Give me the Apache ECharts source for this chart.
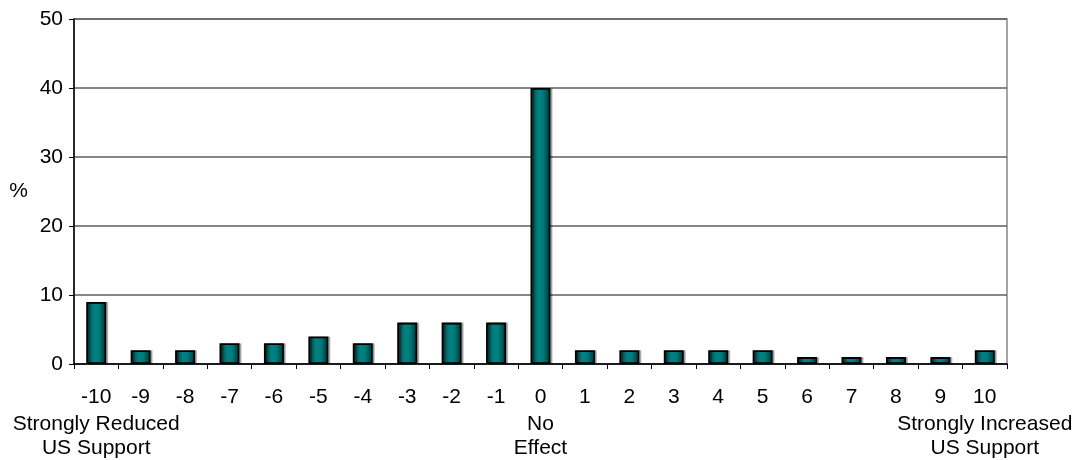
<!DOCTYPE html>
<html>
<head>
<meta charset="utf-8">
<script src="https://cdn.jsdelivr.net/npm/echarts@6/dist/echarts.min.js"></script>
<style>
  html, body { margin: 0; padding: 0; background: #fff; }
  #chart { width: 1083px; height: 460px; }
</style>
</head>
<body>
<div id="chart"></div>
<script>
// Scale positions, from strongly reduced to strongly increased support
const categories = ['-10', '-9', '-8', '-7', '-6', '-5', '-4', '-3', '-2', '-1', '0',
                    '1', '2', '3', '4', '5', '6', '7', '8', '9', '10'];
// Share of respondents (%) at each position
const percentages = [9, 2, 2, 3, 3, 4, 3, 6, 6, 6, 40, 2, 2, 2, 2, 2, 1, 1, 1, 1, 2];
// Descriptive captions under selected positions
const captions = {
  '-10': ['Strongly Reduced', 'US Support'],
  '0': ['No', 'Effect'],
  '10': ['Strongly Increased', 'US Support']
};
const yTicks = { min: 0, max: 50, interval: 10 };

const FONT = '"Liberation Sans", Arial, sans-serif';
const FS = 21;

const chart = echarts.init(document.getElementById('chart'));

const barFill = new echarts.graphic.LinearGradient(0, 0, 1, 0, [
  { offset: 0, color: '#003333' },
  { offset: 0.38, color: '#008282' },
  { offset: 0.62, color: '#007b7b' },
  { offset: 1, color: '#003030' }
]);

chart.setOption({
  animation: false,
  backgroundColor: '#ffffff',
  textStyle: { fontFamily: FONT },
  grid: {
    left: 74, right: 76, top: 19, bottom: 96,
    show: true, borderColor: '#888888', borderWidth: 1.5, backgroundColor: 'transparent'
  },
  xAxis: {
    type: 'category',
    data: categories,
    boundaryGap: true,
    axisLine: { lineStyle: { color: '#000', width: 1.5 } },
    axisTick: { show: true, length: 5, inside: false, lineStyle: { color: '#000', width: 1 } },
    axisLabel: {
      interval: 0,
      margin: 19,
      formatter: function (v) {
        let s = '{n|' + v + '}';
        if (captions[v]) {
          s += '\n' + captions[v].map(function (c) { return '{c|' + c + '}'; }).join('\n');
        }
        return s;
      },
      rich: {
        n: { fontSize: FS, lineHeight: 29, color: '#000', fontFamily: FONT, align: 'center' },
        c: { fontSize: FS, lineHeight: 24, color: '#000', fontFamily: FONT, align: 'center' }
      }
    },
    splitLine: { show: false }
  },
  yAxis: {
    type: 'value',
    min: yTicks.min, max: yTicks.max, interval: yTicks.interval,
    name: '%',
    nameLocation: 'middle',
    nameRotate: 0,
    nameGap: 46,
    nameTextStyle: { fontSize: FS, color: '#000', fontFamily: FONT, align: 'right' },
    axisLine: { show: true, lineStyle: { color: '#000', width: 1.5 } },
    axisTick: { show: true, length: 5, lineStyle: { color: '#000', width: 1 } },
    axisLabel: { fontSize: FS, color: '#000', margin: 11, fontFamily: FONT },
    splitLine: { show: true, lineStyle: { color: '#5e5e5e', width: 1.5 } }
  },
  series: [{
    type: 'bar',
    data: percentages,
    barWidth: 20,
    itemStyle: {
      color: barFill,
      borderColor: '#000',
      borderWidth: 1.8,
      shadowColor: 'rgba(0,0,0,0.25)',
      shadowOffsetX: 2,
      shadowOffsetY: 0,
      shadowBlur: 0
    }
  }]
});
</script>
</body>
</html>
